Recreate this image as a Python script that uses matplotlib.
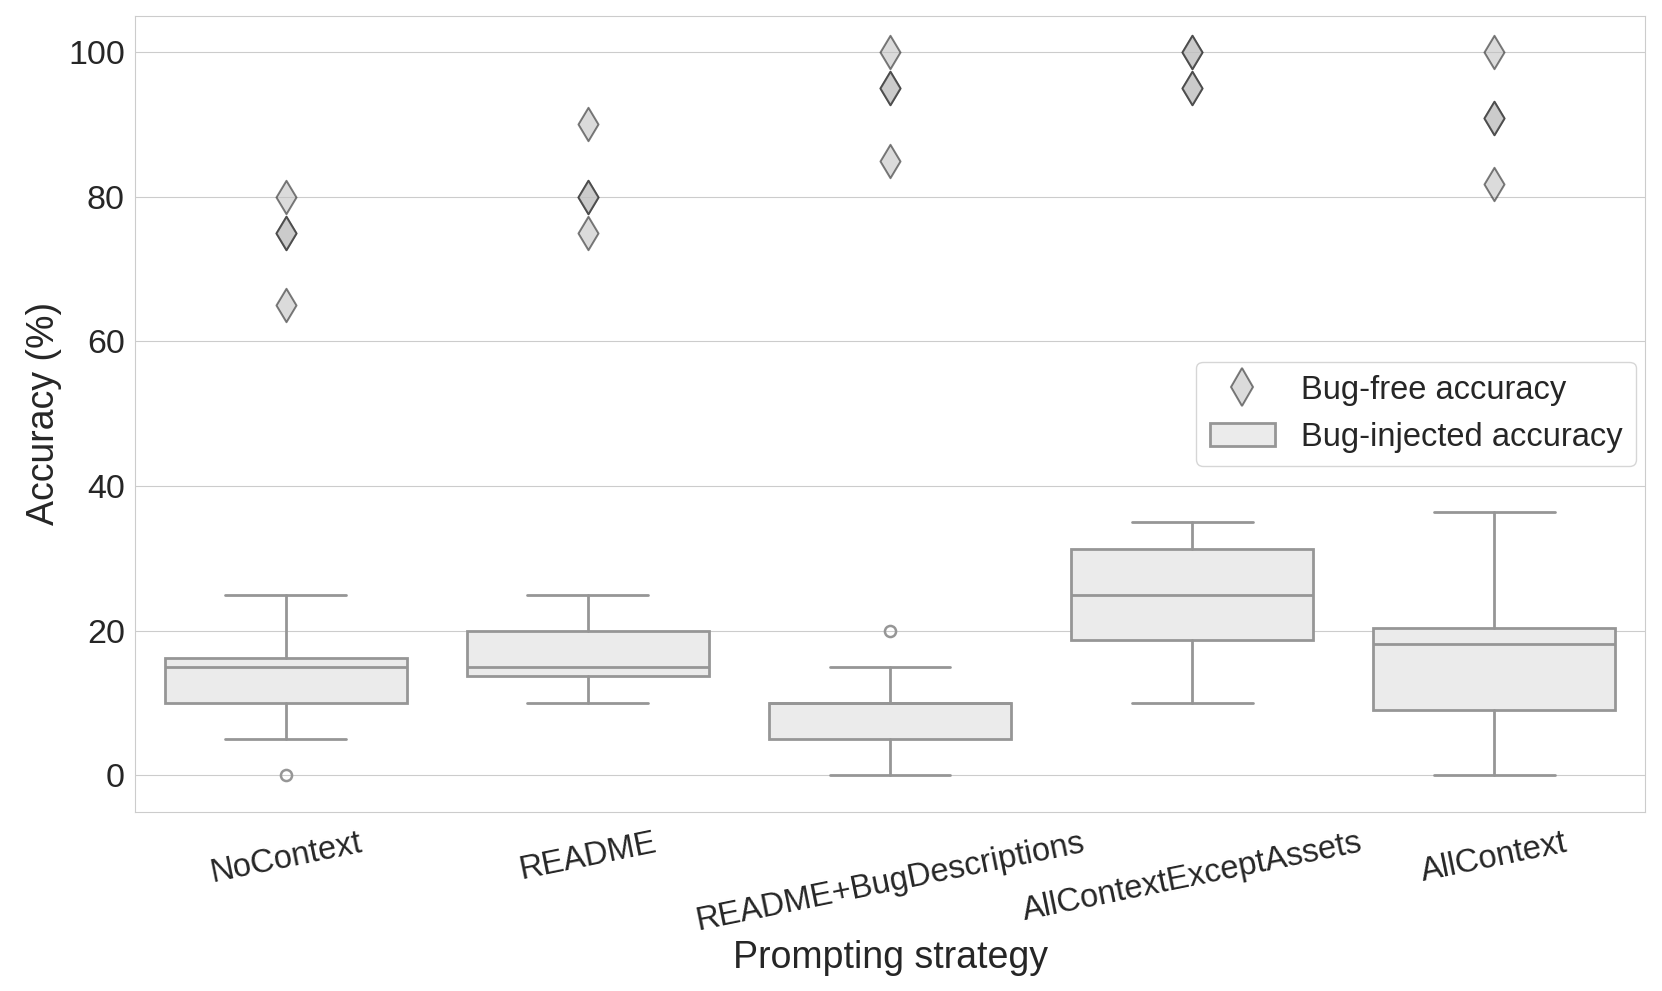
import numpy as np
import matplotlib.pyplot as plt
import seaborn as sns
from matplotlib.patches import Patch
from matplotlib.lines import Line2D

sns.set_style("whitegrid")
plt.rcParams['font.family'] = ['Liberation Sans', 'DejaVu Sans']

# Estrategias de prompting
strategies = ["NoContext", "README", "README+BugDescriptions",
              "AllContextExceptAssets", "AllContext"]

# Precisión sin bugs (cada punto es una ejecución)
bug_free = [
    [80, 75, 75, 65],
    [90, 80, 80, 75],
    [100, 95, 95, 85],
    [100, 100, 95, 95],
    [100, 90.9, 90.9, 81.8],
]

# Estadísticos de las cajas (precisión con bugs inyectados)
q1 = [10, 13.75, 5, 18.75, 9.09]
med = [15, 15, 10, 25, 18.18]
q3 = [16.25, 20, 10, 31.25, 20.45]
whislo = [5, 10, 0, 10, 0]
whishi = [25, 25, 15, 35, 36.36]
fliers = [[0], [], [20], [], []]

fig = plt.figure(figsize=(16.62, 9.91), dpi=100)
ax = fig.add_axes([0.081, 0.181, 0.909, 0.803])

stats = []
for i in range(len(strategies)):
    stats.append(dict(q1=q1[i], med=med[i], q3=q3[i], whislo=whislo[i],
                      whishi=whishi[i], fliers=fliers[i], label=strategies[i]))

line_c = '#969696'
box_fill = '#ebebeb'
ax.bxp(stats, positions=range(len(strategies)), widths=0.8, patch_artist=True,
       boxprops=dict(facecolor=box_fill, edgecolor=line_c, linewidth=2),
       medianprops=dict(color=line_c, linewidth=2),
       whiskerprops=dict(color=line_c, linewidth=2),
       capprops=dict(color=line_c, linewidth=2),
       flierprops=dict(marker='o', markerfacecolor='none', markeredgecolor=line_c,
                       markersize=8, markeredgewidth=1.8),
       capwidths=0.4, zorder=2)

# Puntos de precisión sin bugs
face = (0.75, 0.75, 0.75, 0.55)
edge = (0.15, 0.15, 0.15, 0.6)
for i, vals in enumerate(bug_free):
    ax.scatter([i] * len(vals), vals, marker='d', s=290, facecolor=face,
               edgecolor=edge, linewidth=1.4, zorder=3)

ax.set_xlim(-0.5, len(strategies) - 0.5)
ax.set_ylim(-5, 105)
ax.set_yticks([0, 20, 40, 60, 80, 100])
ax.set_xticks(range(len(strategies)))
ax.set_xticklabels(strategies, rotation=11.5, fontsize=23.5)
ax.tick_params(axis='y', labelsize=24.5)
ax.tick_params(axis='x', pad=8)
ax.xaxis.grid(False)
ax.set_axisbelow(True)

ax.set_xlabel("Prompting strategy", fontsize=27, labelpad=2)
ax.set_ylabel("Accuracy (%)", fontsize=27, labelpad=4)

handles = [
    Line2D([], [], marker='d', linestyle='none', markersize=19,
           markerfacecolor=face, markeredgecolor=edge, markeredgewidth=1.4),
    Patch(facecolor=box_fill, edgecolor=line_c, linewidth=2),
]
ax.legend(handles, ["Bug-free accuracy", "Bug-injected accuracy"],
          loc='center right', fontsize=23.5, frameon=True, handlelength=2.0,
          borderaxespad=0.3)

fig.savefig("out.png", dpi=100)
